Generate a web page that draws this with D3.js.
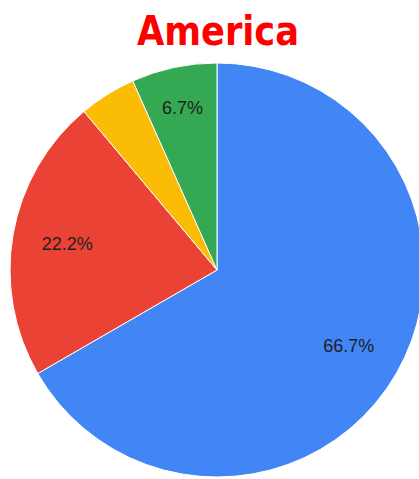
<!DOCTYPE html>
<html>
<head>
<meta charset="utf-8">
<script src="https://cdn.jsdelivr.net/npm/d3@7"></script>
<style>
  html, body { margin: 0; padding: 0; background: #fff; }
  svg { display: block; }
</style>
</head>
<body>
<script>
// Share of each group, drawn clockwise from twelve o'clock
const categories = ["A", "B", "C", "D"];
const values = [30, 10, 2, 3];
const labels = ["66.7%", "22.2%", "", "6.7%"];
const colors = ["#4285F4", "#EA4335", "#FBBC05", "#34A853"];
const title = "America";

const W = 419, H = 479;
const cx = 217, cy = 270, R = 207;

const svg = d3.select("body").append("svg")
  .attr("width", W).attr("height", H);

svg.append("text")
  .attr("x", 218).attr("y", 45)
  .attr("text-anchor", "middle")
  .attr("fill", "#FF0000")
  .style("font-family", "'DejaVu Sans Condensed', 'DejaVu Sans', sans-serif")
  .style("font-stretch", "condensed")
  .style("font-weight", "bold")
  .style("font-size", "40px")
  .attr("textLength", 162)
  .attr("lengthAdjust", "spacingAndGlyphs")
  .text(title);

const pie = d3.pie().sort(null).value(d => d)(values);
const arc = d3.arc().innerRadius(0).outerRadius(R);

const g = svg.append("g").attr("transform", `translate(${cx},${cy})`);

g.selectAll("path").data(pie).join("path")
  .attr("d", arc)
  .attr("fill", (d, i) => colors[i])
  .attr("stroke", "#fff")
  .attr("stroke-width", 1);

// Narrow slices push their label further out so it fits
const total = d3.sum(values);
g.selectAll("text.lbl").data(pie).join("text")
  .attr("class", "lbl")
  .each(function (d, i) {
    const frac = values[i] / total;
    const rr = R * (frac < 0.1 ? 0.8 : 0.735);
    const a = (d.startAngle + d.endAngle) / 2;
    d3.select(this)
      .attr("x", Math.sin(a) * rr)
      .attr("y", -Math.cos(a) * rr);
  })
  .attr("text-anchor", "middle")
  .attr("dominant-baseline", "central")
  .attr("fill", "#1f1f1f")
  .style("font-family", "'Liberation Sans', Arial, sans-serif")
  .style("font-size", "18px")
  .text((d, i) => labels[i]);
</script>
</body>
</html>
